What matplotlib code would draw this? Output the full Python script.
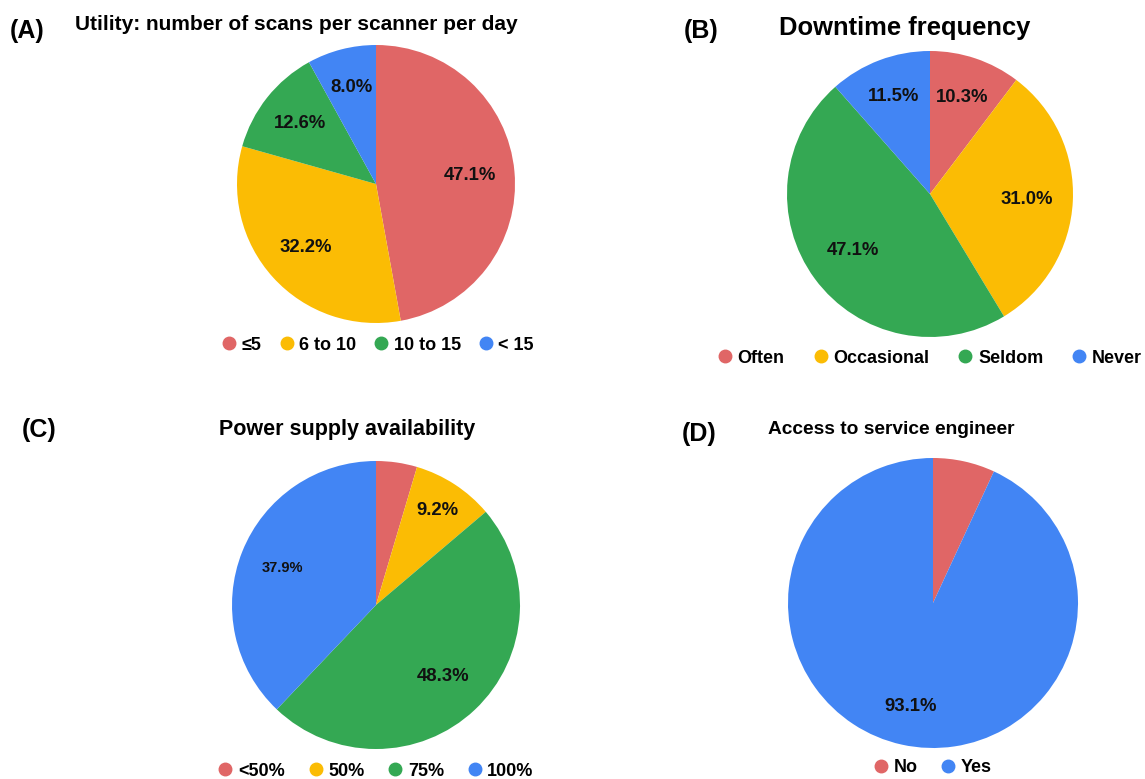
import numpy as np
import matplotlib
matplotlib.use("Agg")
import matplotlib.pyplot as plt
from matplotlib.lines import Line2D

plt.rcParams['font.family'] = ['Liberation Sans', 'DejaVu Sans']

RED, YEL, GRN, BLU = '#E06666', '#FBBC04', '#34A853', '#4285F4'

# ---- data ----
a_labels = ['≤5', '6 to 10', '10 to 15', '< 15']
a_values = [47.1, 32.2, 12.6, 8.0]
b_labels = ['Often', 'Occasional', 'Seldom', 'Never']
b_values = [10.3, 31.0, 47.1, 11.5]
c_labels = ['<50%', '50%', '75%', '100%']
c_values = [4.6, 9.2, 48.3, 37.9]
d_labels = ['No', 'Yes']
d_values = [6.9, 93.1]

W, H = 1145, 779
fig = plt.figure(figsize=(W / 100, H / 100), dpi=100)


def pie_panel(cx, cy, r, values, colors, label_style):
    ax = fig.add_axes([(cx - r) / W, (H - cy - r) / H, 2 * r / W, 2 * r / H])
    wedges, _ = ax.pie(values, colors=colors, startangle=90, counterclock=False,
                       radius=1, wedgeprops=dict(linewidth=0))
    ax.set_xlim(-1, 1)
    ax.set_ylim(-1, 1)
    ax.axis('off')
    for w, v, st in zip(wedges, values, label_style):
        if st is None:
            continue
        dist, fs = st
        mid = np.deg2rad((w.theta1 + w.theta2) / 2)
        ax.text(dist * np.cos(mid), dist * np.sin(mid), f'{v:.1f}%',
                ha='center', va='center', fontsize=fs, fontweight='bold',
                color='#111111')
    return ax


def legend(cx, cy, labels, colors, fs=13, spacing=1.2):
    handles = [Line2D([], [], marker='o', linestyle='none', markersize=9,
                      markerfacecolor=c, markeredgecolor=c) for c in colors]
    fig.legend(handles, labels, loc='center', bbox_to_anchor=(cx / W, 1 - cy / H),
               ncol=len(labels), frameon=False, handletextpad=0.2,
               columnspacing=spacing, prop=dict(size=fs, weight='bold'),
               handlelength=1.0, borderaxespad=0)


cols4 = [RED, YEL, GRN, BLU]
PF = 13.3

# (A)
pie_panel(376, 184, 139, a_values, cols4,
          [(0.68, PF), (0.68, PF), (0.70, PF), (0.72, PF)])
fig.text(10 / W, 1 - 31 / H, '(A)', fontsize=18, fontweight='bold', va='center', ha='left')
fig.text(296 / W, 1 - 24 / H, 'Utility: number of scans per scanner per day',
         fontsize=15, fontweight='bold', va='center', ha='center')
legend(377, 345, a_labels, cols4, spacing=0.87)

# (B)
pie_panel(930, 194, 143, b_values, cols4,
          [(0.71, PF), (0.68, PF), (0.67, PF), (0.73, PF)])
fig.text(684 / W, 1 - 31 / H, '(B)', fontsize=18, fontweight='bold', va='center', ha='left')
fig.text(905 / W, 1 - 28 / H, 'Downtime frequency',
         fontsize=18.4, fontweight='bold', va='center', ha='center')
legend(929, 358, b_labels, cols4, spacing=1.5)

# (C)
pie_panel(376, 605, 144, c_values, cols4,
          [None, (0.78, PF), (0.68, PF), (0.70, 10.5)])
fig.text(22 / W, 1 - 430 / H, '(C)', fontsize=18, fontweight='bold', va='center', ha='left')
fig.text(347 / W, 1 - 430 / H, 'Power supply availability',
         fontsize=15.5, fontweight='bold', va='center', ha='center')
legend(375, 771, c_labels, cols4)

# (D)
pie_panel(933, 603, 145, d_values, [RED, BLU],
          [None, (0.73, PF)])
fig.text(682 / W, 1 - 434 / H, '(D)', fontsize=18, fontweight='bold', va='center', ha='left')
fig.text(891 / W, 1 - 430 / H, 'Access to service engineer',
         fontsize=13.8, fontweight='bold', va='center', ha='center')
legend(932, 768, d_labels, [RED, BLU])

fig.savefig('out.png', dpi=100, facecolor='white')
